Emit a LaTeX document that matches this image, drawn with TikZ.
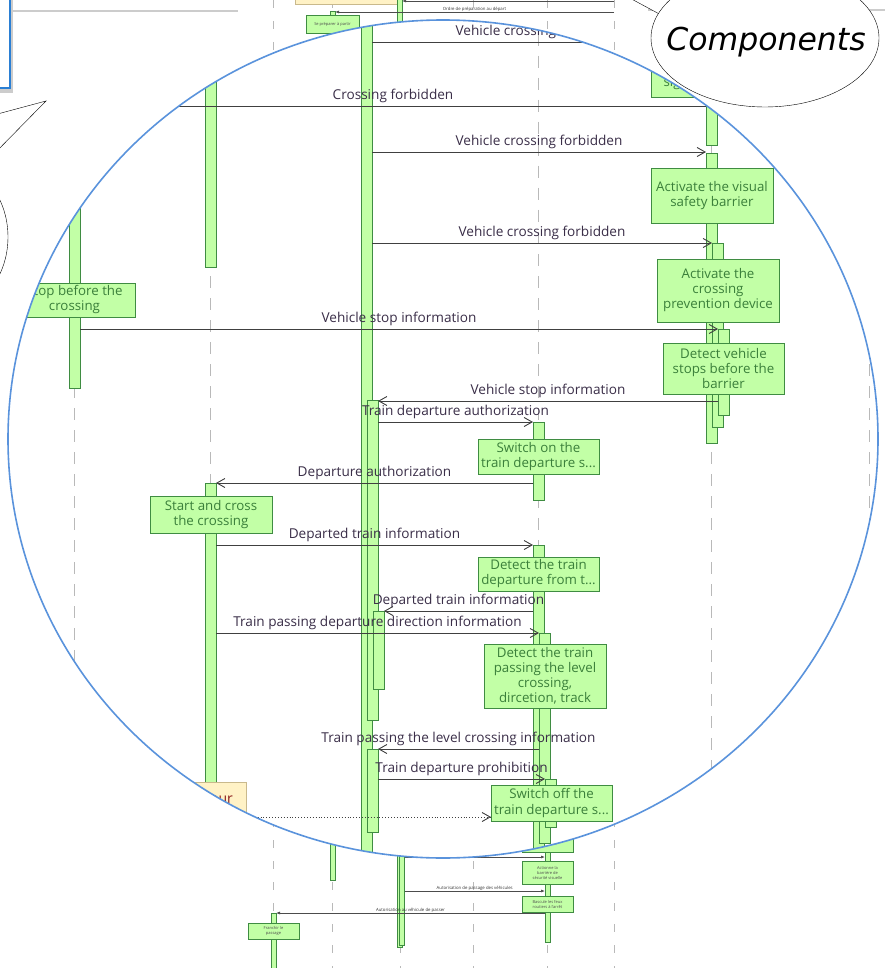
\documentclass[tikz,border=0pt]{standalone}
\usepackage{fontspec}
\setmainfont{Open Sans}
\newfontfamily\handfont{DejaVu Sans}
\usetikzlibrary{arrows.meta,fit}

\definecolor{barfill}{HTML}{C2FFA6}
\definecolor{bardraw}{HTML}{3F8C42}
\definecolor{acttext}{HTML}{3A7F3A}
\definecolor{msgtext}{HTML}{3A2E48}
\definecolor{lensblue}{HTML}{5A93DC}
\definecolor{notefill}{HTML}{FFF2C6}
\definecolor{notedraw}{HTML}{C9B98C}
\definecolor{notetext}{HTML}{8B1A1A}
\definecolor{frameblue}{HTML}{2A7FD4}

\tikzset{
  bar/.style={draw=bardraw, fill=barfill, line width=0.9pt, inner sep=0pt, outer sep=0pt},
  act/.style={draw=bardraw, fill=barfill, line width=0.9pt, text=acttext, align=center,
    inner sep=1pt, outer sep=0pt, font=\fontsize{13.3}{15}\selectfont},
  life/.style={draw=gray!55, line width=1pt, dash pattern=on 12pt off 10pt},
  msg/.style={draw=black!75, line width=0.9pt},
  msgarrow/.style={msg, -{Straight Barb[length=8pt,width=9pt]}},
  msglabel/.style={text=msgtext, font=\fontsize{13.6}{15}\selectfont, inner sep=1pt, above=1.5pt},
  note/.style={draw=notedraw, fill=notefill, line width=0.9pt, inner sep=0pt, outer sep=0pt},
  % the small diagram behind the lens
  sbar/.style={draw=bardraw, fill=barfill, line width=0.6pt, inner sep=0pt, outer sep=0pt},
  sact/.style={draw=bardraw, fill=barfill, line width=0.6pt, text=black!70, align=center,
    inner sep=0.5pt, outer sep=0pt, font=\fontsize{4}{5}\selectfont},
  slife/.style={draw=gray!55, line width=1pt, dash pattern=on 8pt off 13pt},
  smsg/.style={draw=black!70, line width=0.7pt, -{Latex[length=4pt,width=3pt]}},
  slabel/.style={text=black!80, font=\fontsize{4.3}{5}\selectfont, inner sep=0.5pt, above},
}

\begin{document}
\begin{tikzpicture}[x=1pt,y=-1pt]
\useasboundingbox (0,0) rectangle (885,968);

% ---- small diagram ----
\draw[gray!40, line width=1.2pt] (10,11) -- (238,11);
\draw[gray!40, line width=1.2pt] (648,10) -- (885,10);
\foreach \x in {273.5,332.5,400,473,547.5,614}
  \draw[slife] (\x,0) -- (\x,968);
\coordinate (s614) at (614,0);

\node[note, fit={(295,-10) (401,4)}] (topnote) {};
\node[sbar, fit={(397,-5) (402,947)}] (sb400) {};
\node[sbar, fit={(399.5,600) (404.5,945)}] (sb400b) {};
\node[sbar, fit={(330,11) (335,880)}] (sb332) {};
\node[sbar, fit={(271,913) (276,975)}] (sb273) {};
\node[sbar, fit={(545,830) (550,942)}] (sb547) {};

\node[sact, minimum width=53, minimum height=18] (prep) at (332.5,24) {Se préparer à partir};
\node[sact, minimum width=51, minimum height=20] (flash) at (547.5,842) {Active le feu\\clignotant};
\node[sact, minimum width=51, minimum height=23] (raise) at (547.5,872.5) {Actionne la\\barrière de\\sécurité visuelle};
\node[sact, minimum width=51, minimum height=16] (lights) at (547.5,904) {Bascule les feux\\routiers à l'arrêt};
\node[sact, minimum width=51, minimum height=16] (pass) at (273.5,931) {Franchir le\\passage};

\draw[smsg] (s614 |- 0,1) -- (sb400.east |- 0,1);
\draw[smsg] (s614 |- 0,12) -- (sb332.east |- 0,12)
  node[slabel, pos=0.5] {Ordre de préparation au départ};
\draw[smsg] (sb400b.east |- 0,857) -- (sb547.west |- 0,857);
\draw[smsg] (sb400b.east |- 0,891) -- (sb547.west |- 0,891)
  node[slabel, midway] {Autorisation de passage des véhicules};
\draw[smsg] (sb547.west |- 0,913) -- (sb273.east |- 0,913)
  node[slabel, midway] {Autorisation au véhicule de passer};

% ---- lens ----
\fill[white] (443,439) ellipse [x radius=435pt, y radius=419pt];
\begin{scope}
\clip (443,439) ellipse [x radius=435pt, y radius=419pt];
\foreach \x in {74.5,210.5,366.5,538.5,711.5,869}
  \draw[life] (\x,-10) -- (\x,980);

\node[bar, fit={(69,-10) (80,388)}] (bA74) {};
\node[bar, fit={(205,-10) (216,267)}] (bA210) {};
\node[bar, fit={(361,-10) (372,852)}] (bMain) {};
\node[bar, fit={(706,-10) (717,145)}] (bV1) {};
\node[bar, fit={(706,153) (717,443)}] (bV2) {};
\node[bar, fit={(712,243) (723,427)}] (bV3) {};
\node[bar, fit={(718,329) (729,415)}] (bV4) {};
\node[bar, fit={(367,400) (378,720)}] (bM2) {};
\node[bar, fit={(373,611) (384,689)}] (bM3) {};
\node[bar, fit={(367,749) (378,832)}] (bM4) {};
\node[bar, fit={(533,422) (544,500)}] (bT1) {};
\node[bar, fit={(205,483) (216,800)}] (bS1) {};
\node[bar, fit={(533,545) (544,848)}] (bT2) {};
\node[bar, fit={(539,633) (550,843)}] (bT3) {};
\node[bar, fit={(545,779) (556,827)}] (bT4) {};

\node[act, minimum width=120, minimum height=42] (signal) at (711,76) {Switch on the road\\signalling lights};
\node[act, minimum width=122, minimum height=55] (visual) at (712,195.5) {Activate the visual\\safety barrier};
\node[act, minimum width=122, minimum height=63] (prevent) at (718,290.5) {Activate the\\crossing\\prevention device};
\node[act, minimum width=121, minimum height=51] (detveh) at (723.5,368.5) {Detect vehicle\\stops before the\\barrier};
\node[act, minimum width=121, minimum height=34] (stopcross) at (74.5,300) {Stop before the\\crossing};
\node[act, minimum width=121, minimum height=35] (swon) at (538.5,456.5) {Switch on the\\train departure s...};
\node[act, minimum width=122, minimum height=37] (startcross) at (211,514.5) {Start and cross\\the crossing};
\node[act, minimum width=121, minimum height=34] (detdep) at (538.5,574) {Detect the train\\departure from t...};
\node[act, minimum width=122, minimum height=64] (detpass) at (545,676) {Detect the train\\passing the level\\crossing,\\dircetion, track};
\node[act, minimum width=121, minimum height=36] (swoff) at (551.5,803) {Switch off the\\train departure s...};
\node[note, fit={(170,782) (246,845)}] (ynote) {};
\node[anchor=base east, text=notetext, font=\fontsize{14}{16}\selectfont, inner sep=0pt] (ytext) at (233,803) {Conducteur};

\draw[msgarrow] (bMain.east |- 0,42) -- (bV1.west |- 0,42)
  node[msglabel, midway] {Vehicle crossing forbidden};
\draw[msg] (bA74.east |- 0,106) -- (bV1.west |- 0,106)
  node[msglabel, midway] {Crossing forbidden};
\draw[msgarrow] (bMain.east |- 0,152) -- (bV2.west |- 0,152)
  node[msglabel, midway] {Vehicle crossing forbidden};
\draw[msgarrow] (bMain.east |- 0,243) -- (bV3.west |- 0,243)
  node[msglabel, midway] {Vehicle crossing forbidden};
\draw[msgarrow] (bA74.east |- 0,329) -- (bV4.west |- 0,329)
  node[msglabel, midway] {Vehicle stop information};
\draw[msgarrow] (bV4.west |- 0,401) -- (bM2.east |- 0,401)
  node[msglabel, midway] {Vehicle stop information};
\draw[msgarrow] (bM2.east |- 0,422) -- (bT1.west |- 0,422)
  node[msglabel, midway] {Train departure authorization};
\draw[msgarrow] (bT1.west |- 0,483) -- (bS1.east |- 0,483)
  node[msglabel, midway] {Departure authorization};
\draw[msgarrow] (bS1.east |- 0,545) -- (bT2.west |- 0,545)
  node[msglabel, midway] {Departed train information};
\draw[msgarrow] (bT2.west |- 0,611) -- (bM3.east |- 0,611)
  node[msglabel, midway] {Departed train information};
\draw[msgarrow] (bS1.east |- 0,633) -- (bT3.west |- 0,633)
  node[msglabel, midway] {Train passing departure direction information};
\draw[msgarrow] (bT3.west |- 0,749) -- (bM4.east |- 0,749)
  node[msglabel, midway] {Train passing the level crossing information};
\draw[msgarrow] (bM4.east |- 0,779) -- (bT4.west |- 0,779)
  node[msglabel, midway] {Train departure prohibition};
\draw[msgarrow, dotted] (ynote.east |- 0,817) -- (swoff.west |- 0,817);
\end{scope}
\draw[lensblue, line width=1.6pt] (443,439) ellipse [x radius=435pt, y radius=419pt];

% ---- callouts ----
\fill[black!20] (-20,-20) rectangle (13,93);
\draw[frameblue, line width=1.8pt, fill=white] (-20,-20) rectangle (10,88);
\draw[fill=white] (-10,116) -- (46,101) -- (-10,158);
\draw[fill=white] (-60,237) ellipse [x radius=68pt, y radius=78pt];
\draw[fill=white] (600,-18) -- (663,16) -- (700,-40);
\draw[fill=white] (765,38) ellipse [x radius=114pt, y radius=69pt];
\node[font=\handfont\itshape\fontsize{31.5}{34}\selectfont] (comp) at (766,42) {Components};
\end{tikzpicture}
\end{document}
